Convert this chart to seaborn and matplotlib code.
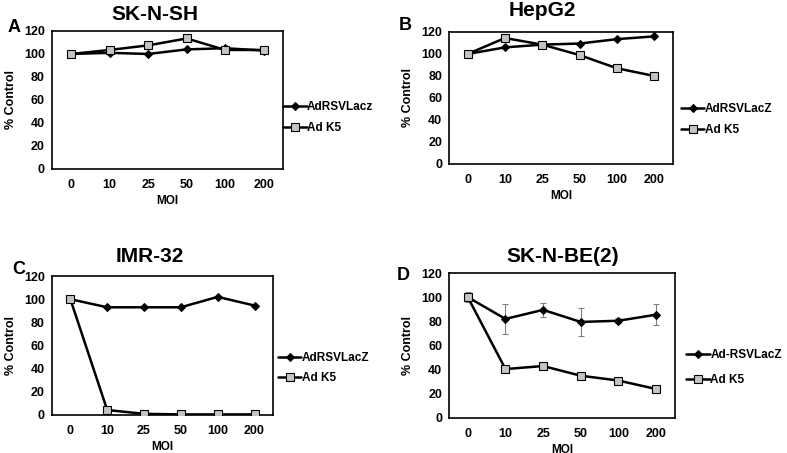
import numpy as np
import pandas as pd
import seaborn as sns
import matplotlib.pyplot as plt

moi = ["0", "10", "25", "50", "100", "200"]

# panel A: SK-N-SH
a_lacz = [100, 101, 100, 104, 105, 103]
a_k5 = [100, 103.5, 107.5, 113.5, 103.5, 103.5]
# panel B: HepG2
b_lacz = [100, 106, 108.5, 109.5, 113.5, 116]
b_k5 = [100, 114.5, 108.5, 99, 87, 80]
# panel C: IMR-32
c_lacz = [100, 93, 93, 93, 102, 94.5]
c_k5 = [100, 4.3, 1, 0.5, 0.5, 0.5]
# panel D: SK-N-BE(2)
d_lacz = [100, 82, 89.5, 79.5, 80.5, 85.5]
d_lacz_err = [4, 12.5, 6, 11.5, 2, 8.5]
d_k5 = [100, 40.5, 43, 35, 31, 24]
d_k5_err = [3, 1, 1, 1, 1, 1]

sns.set_style("white")
plt.rcParams['font.family'] = ['Liberation Sans', 'DejaVu Sans']
plt.rcParams['font.weight'] = 'bold'
plt.rcParams['text.color'] = 'black'
plt.rcParams['axes.labelcolor'] = 'black'
plt.rcParams['xtick.color'] = 'black'
plt.rcParams['ytick.color'] = 'black'

fig = plt.figure(figsize=(7.87, 4.53), dpi=100)

panels = [
    # letter, title, lacz, k5, lacz label, axes rect, legend (x, y, spacing), title xy, letter xy, err
    ("A", "SK-N-SH", a_lacz, a_k5, "AdRSVLacz", [0.066, 0.627, 0.2935, 0.3046],
     (1.0, 0.373, 0.7), (155, 14), (8, 27), None),
    ("B", "HepG2", b_lacz, b_k5, "AdRSVLacZ", [0.5705, 0.638, 0.2846, 0.2914],
     (1.035, 0.337, 0.7), (542, 10), (399, 26), None),
    ("C", "IMR-32", c_lacz, c_k5, "AdRSVLacZ", [0.066, 0.0839, 0.2808, 0.3068],
     (1.022, 0.338, 0.7), (150, 256), (12, 269), None),
    ("D", "SK-N-BE(2)", d_lacz, d_k5, "Ad-RSVLacZ", [0.5705, 0.0773, 0.287, 0.320],
     (1.05, 0.348, 1.1), (563, 256), (397, 276), (d_lacz_err, d_k5_err)),
]

W, H = 787, 453
for letter, title, lacz, k5, lacz_name, rect, leg, txy, lxy, err in panels:
    ax = fig.add_axes(rect)
    x = np.arange(len(moi))
    if err is not None:
        ax.errorbar(x, lacz, yerr=err[0], fmt="none", ecolor="#808080",
                    elinewidth=0.8, capsize=2.5, capthick=0.8, zorder=1)
        ax.errorbar(x, k5, yerr=err[1], fmt="none", ecolor="#808080",
                    elinewidth=0.8, capsize=2.5, capthick=0.8, zorder=1)
    sns.lineplot(x=x, y=lacz, ax=ax, color="black", lw=1.8, marker="D",
                 markersize=4.5, markerfacecolor="black", markeredgecolor="black",
                 label=lacz_name, zorder=3)
    sns.lineplot(x=x, y=k5, ax=ax, color="black", lw=1.8, marker="s",
                 markersize=5.5, markerfacecolor="#c4c4c4", markeredgecolor="black",
                 markeredgewidth=0.8, label="Ad K5", zorder=4)
    ax.set_xlim(-0.5, 5.5)
    ax.set_ylim(0, 120)
    ax.set_yticks(range(0, 121, 20))
    ax.set_xticks(x)
    ax.set_xticklabels(moi)
    ax.tick_params(length=0, labelsize=9, pad=5)
    ax.tick_params(axis="x", pad=7)
    for lab in ax.get_xticklabels() + ax.get_yticklabels():
        lab.set_fontweight("bold")
    for s in ax.spines.values():
        s.set_color("black")
        s.set_linewidth(1.2)
    ax.set_xlabel("MOI", fontsize=8.5, fontweight="bold", labelpad=3)
    ax.set_ylabel("% Control", fontsize=9, fontweight="bold", labelpad=5)
    ax.legend(loc="center left", bbox_to_anchor=(leg[0], leg[1]), frameon=False,
              borderaxespad=0, borderpad=0, handlelength=2.0, handletextpad=0.05,
              labelspacing=leg[2], prop={"size": 8.5, "weight": "bold"})
    fig.text(txy[0] / W, 1 - txy[1] / H, title, ha="center", va="center",
             fontsize=15, fontweight="bold")
    fig.text(lxy[0] / W, 1 - lxy[1] / H, letter, ha="left", va="center",
             fontsize=13, fontweight="bold")

plt.savefig("out.png", dpi=100)
